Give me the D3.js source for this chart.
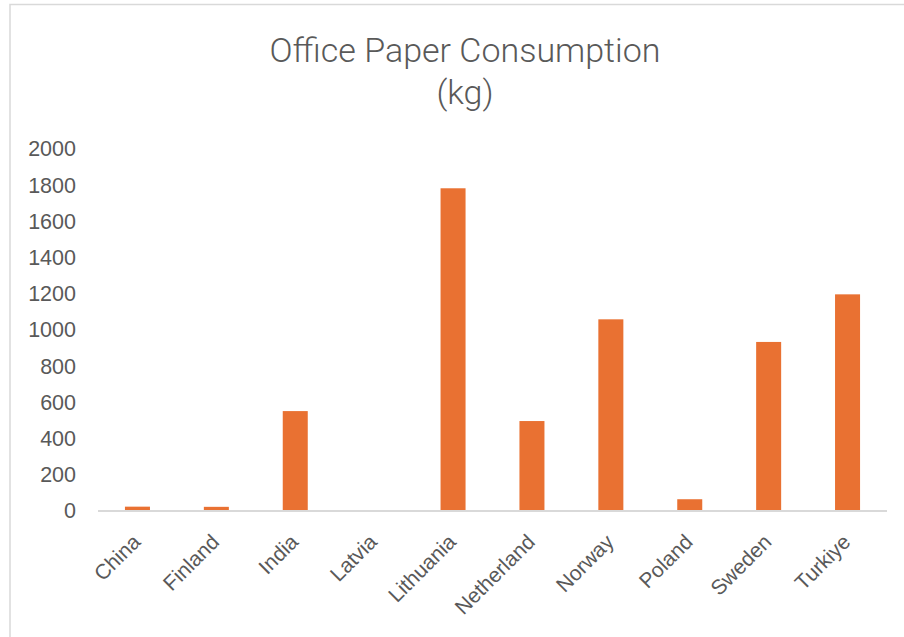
<!DOCTYPE html>
<html>
<head>
<meta charset="utf-8">
<script src="https://cdn.jsdelivr.net/npm/d3@7"></script>
<style>
  html, body { margin: 0; padding: 0; background: #fff; }
  svg { display: block; }
</style>
</head>
<body>
<svg width="904" height="637"></svg>
<script>
const countries = ["China", "Finland", "India", "Latvia", "Lithuania", "Netherland", "Norway", "Poland", "Sweden", "Turkiye"];
const paperKg = [24, 23, 552, 0, 1783, 497, 1059, 65, 934, 1197];
const yTicks = [0, 200, 400, 600, 800, 1000, 1200, 1400, 1600, 1800, 2000];
const titleLines = ["Office Paper Consumption", "(kg)"];

const svg = d3.select("svg");
const textColor = "#595959";

// chart frame (right and bottom edges fall outside the picture)
svg.append("rect")
  .attr("x", 10).attr("y", 4.5)
  .attr("width", 1000).attr("height", 1000)
  .attr("fill", "none")
  .attr("stroke", "#d9d9d9")
  .attr("stroke-width", 1.5);

const x = d3.scaleBand()
  .domain(countries)
  .range([98, 887])
  .paddingInner(0.683)
  .paddingOuter(0.3415);

const y = d3.scaleLinear()
  .domain([0, 2000])
  .range([511, 149]);

// title
svg.append("g")
  .selectAll("text")
  .data(titleLines)
  .enter()
  .append("text")
  .attr("x", 465)
  .attr("y", (d, i) => 62 + i * 42)
  .attr("text-anchor", "middle")
  .attr("font-family", "Roboto, sans-serif")
  .attr("font-weight", 300)
  .attr("font-size", 34)
  .attr("fill", textColor)
  .text((d) => d);

// y axis labels
const yAxis = svg.append("g")
  .attr("transform", "translate(76,0)")
  .call(d3.axisLeft(y).tickValues(yTicks).tickSize(0).tickPadding(0).tickFormat(d3.format("d")));
yAxis.select(".domain").remove();
yAxis.selectAll("text")
  .attr("font-family", "'Liberation Sans', Arial, sans-serif")
  .attr("font-size", 21.5)
  .attr("fill", textColor);

// bars
svg.append("g")
  .selectAll("rect")
  .data(countries)
  .enter()
  .append("rect")
  .attr("x", (d) => x(d))
  .attr("width", x.bandwidth())
  .attr("y", (d, i) => y(paperKg[i]))
  .attr("height", (d, i) => y(0) - y(paperKg[i]))
  .attr("fill", "#e97132");

// category axis
const xAxis = svg.append("g")
  .attr("transform", `translate(0,${y(0)})`)
  .call(d3.axisBottom(x).tickSize(0).tickPadding(0));
xAxis.select(".domain")
  .attr("d", "M98,0H887")
  .attr("stroke", "#d9d9d9")
  .attr("stroke-width", 2);
xAxis.selectAll(".tick text")
  .attr("font-family", "'Liberation Sans', Arial, sans-serif")
  .attr("font-size", 21)
  .attr("fill", textColor)
  .attr("text-anchor", "end")
  .attr("x", 0).attr("y", 0)
  .attr("dy", "0.35em")
  .attr("transform", "translate(-1,27) rotate(-45)");
</script>
</body>
</html>
